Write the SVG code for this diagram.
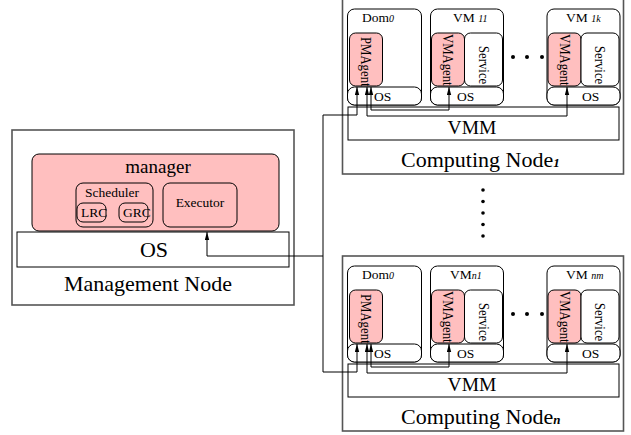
<svg xmlns="http://www.w3.org/2000/svg" width="631" height="435" viewBox="0 0 631 435">
<defs>
<style>
text{font-family:"Liberation Serif","Times New Roman",serif;fill:#000}
.outer{fill:#fff;stroke:#555;stroke-width:1.6}
.box{fill:#fff;stroke:#000;stroke-width:1}
.pink{fill:#ffbfbf;stroke:#000;stroke-width:1}
.conn{fill:none;stroke:#000;stroke-width:1}
.lbl{font-size:13.5px}
.sub{font-size:10px;font-style:italic}
.big{font-size:22px}
.rot{font-size:15px}
.bsub{font-size:13px;font-style:italic;font-weight:bold}
</style>
<marker id="ah" markerWidth="8" markerHeight="5" refX="8" refY="2.5" orient="auto-start-reverse" markerUnits="userSpaceOnUse"><path d="M0,0.3 L8,2.5 L0,4.7 z" fill="#000"/></marker>
</defs>
<rect width="631" height="435" fill="#fff"/>

<g id="management-node">
<rect class="outer" x="12" y="130" width="282" height="175"/>
<text class="big" x="148" y="291" text-anchor="middle">Management Node</text>
</g>
<g id="manager">
<rect class="pink" x="32" y="154" width="247" height="77" rx="7"/>
<text x="158" y="173" font-size="19" text-anchor="middle">manager</text>
</g>
<g id="scheduler">
<rect class="pink" x="76" y="183" width="77" height="44" rx="7"/>
<text class="lbl" x="112" y="197" text-anchor="middle">Scheduler</text>
</g>
<g id="lrc">
<rect class="pink" x="77" y="203" width="29" height="19" rx="6"/>
<text class="lbl" x="81" y="217">LRC</text>
</g>
<g id="grc">
<rect class="pink" x="119" y="203" width="29" height="19" rx="6"/>
<text class="lbl" x="123" y="217">GRC</text>
</g>
<g id="executor">
<rect class="pink" x="163" y="183" width="74" height="44" rx="7"/>
<text class="lbl" x="200" y="207" text-anchor="middle">Executor</text>
</g>
<g id="mgmt-os">
<rect class="box" x="17" y="232" width="272" height="35"/>
<text x="154" y="257" font-size="22" text-anchor="middle">OS</text>
</g>

<!-- Computing Node 1 -->
<g id="computing-node-1">
<rect class="outer" x="342.5" y="-1" width="281" height="175"/>
<text class="big" x="401" y="167">Computing Node<tspan class="bsub">1</tspan></text>
</g>
<g id="cn1-vmm">
<rect class="box" x="348" y="107" width="271" height="33"/>
<text x="472" y="134" font-size="19.5" text-anchor="middle">VMM</text>
</g>
<g id="cn1-dom0">
<rect class="box" x="347.5" y="9" width="74" height="96" rx="7"/>
<text class="lbl" x="362" y="22">Dom<tspan class="sub">0</tspan></text>
<rect class="pink" x="349.5" y="33" width="33" height="53" rx="6"/>
<text class="rot" transform="translate(361,37) rotate(90) scale(0.85,1)">PMAgent</text>
<rect class="box" x="347.5" y="87" width="74" height="18" rx="7"/>
<text class="lbl" x="374" y="101">OS</text>
</g>
<g id="cn1-vm11">
<rect class="box" x="430.5" y="9" width="73" height="96" rx="7"/>
<text class="lbl" x="453" y="22">VM <tspan class="sub">11</tspan></text>
<rect class="pink" x="431.5" y="33" width="33" height="53" rx="6"/>
<text class="rot" transform="translate(442.5,34) rotate(90) scale(0.85,1)">VMAgent</text>
<rect class="box" x="464.5" y="33" width="38" height="53" rx="6"/>
<text class="rot" transform="translate(479,46) rotate(90) scale(0.85,1)">Service</text>
<rect class="box" x="430.5" y="87" width="73" height="18" rx="7"/>
<text class="lbl" x="457" y="101">OS</text>
</g>
<g id="cn1-vm1k">
<rect class="box" x="547" y="9" width="73" height="96" rx="7"/>
<text class="lbl" x="566" y="22">VM <tspan class="sub">1k</tspan></text>
<rect class="pink" x="548" y="33" width="33" height="53" rx="6"/>
<text class="rot" transform="translate(559.5,34) rotate(90) scale(0.85,1)">VMAgent</text>
<rect class="box" x="581" y="33" width="38" height="53" rx="6"/>
<text class="rot" transform="translate(595,46) rotate(90) scale(0.85,1)">Service</text>
<rect class="box" x="547" y="87" width="73" height="18" rx="7"/>
<text class="lbl" x="582" y="101">OS</text>
</g>
<g id="cn1-dots">
<circle cx="513" cy="57" r="2"/><circle cx="527" cy="57" r="2"/><circle cx="542" cy="57" r="2"/>
</g>

<!-- Computing Node n -->
<g id="computing-node-n" transform="translate(0,257)">
<rect class="outer" x="342.5" y="-1" width="281" height="175"/>
<text class="big" x="401" y="167">Computing Node<tspan class="bsub">n</tspan></text>
</g>
<g id="cnn-vmm" transform="translate(0,257)">
<rect class="box" x="348" y="107" width="271" height="33"/>
<text x="472" y="134" font-size="19.5" text-anchor="middle">VMM</text>
</g>
<g id="cnn-dom0" transform="translate(0,257)">
<rect class="box" x="347.5" y="9" width="74" height="96" rx="7"/>
<text class="lbl" x="362" y="22">Dom<tspan class="sub">0</tspan></text>
<rect class="pink" x="349.5" y="33" width="33" height="53" rx="6"/>
<text class="rot" transform="translate(361,37) rotate(90) scale(0.85,1)">PMAgent</text>
<rect class="box" x="347.5" y="87" width="74" height="18" rx="7"/>
<text class="lbl" x="374" y="101">OS</text>
</g>
<g id="cnn-vmn1" transform="translate(0,257)">
<rect class="box" x="430.5" y="9" width="73" height="96" rx="7"/>
<text class="lbl" x="450" y="22">VM<tspan class="sub">n1</tspan></text>
<rect class="pink" x="431.5" y="33" width="33" height="53" rx="6"/>
<text class="rot" transform="translate(442.5,34) rotate(90) scale(0.85,1)">VMAgent</text>
<rect class="box" x="464.5" y="33" width="38" height="53" rx="6"/>
<text class="rot" transform="translate(479,46) rotate(90) scale(0.85,1)">Service</text>
<rect class="box" x="430.5" y="87" width="73" height="18" rx="7"/>
<text class="lbl" x="457" y="101">OS</text>
</g>
<g id="cnn-vmnm" transform="translate(0,257)">
<rect class="box" x="547" y="9" width="73" height="96" rx="7"/>
<text class="lbl" x="566" y="22">VM <tspan class="sub">nm</tspan></text>
<rect class="pink" x="548" y="33" width="33" height="53" rx="6"/>
<text class="rot" transform="translate(559.5,34) rotate(90) scale(0.85,1)">VMAgent</text>
<rect class="box" x="581" y="33" width="38" height="53" rx="6"/>
<text class="rot" transform="translate(595,46) rotate(90) scale(0.85,1)">Service</text>
<rect class="box" x="547" y="87" width="73" height="18" rx="7"/>
<text class="lbl" x="582" y="101">OS</text>
</g>
<g id="cnn-dots" transform="translate(0,257)">
<circle cx="513" cy="57" r="2"/><circle cx="527" cy="57" r="2"/><circle cx="542" cy="57" r="2"/>
</g>

<g id="node-dots">
<circle cx="483" cy="190" r="1.8"/><circle cx="483" cy="201.5" r="1.8"/><circle cx="483" cy="213" r="1.8"/><circle cx="483" cy="224.5" r="1.8"/><circle cx="483" cy="236" r="1.8"/>
</g>

<g id="connectors">
<path class="conn" d="M207,232 V256 H323" marker-start="url(#ah)"/>
<path class="conn" d="M357,87 V115 H323 V372 H357 V344" marker-start="url(#ah)" marker-end="url(#ah)"/>
<path class="conn" d="M371,87 V110 H449 V87" marker-start="url(#ah)" marker-end="url(#ah)"/>
<path class="conn" d="M367,87 V116 H567 V87" marker-start="url(#ah)" marker-end="url(#ah)"/>
<path class="conn" d="M371,344 V367 H449 V344" marker-start="url(#ah)" marker-end="url(#ah)"/>
<path class="conn" d="M367,344 V373 H567 V344" marker-start="url(#ah)" marker-end="url(#ah)"/>
</g>
</svg>
